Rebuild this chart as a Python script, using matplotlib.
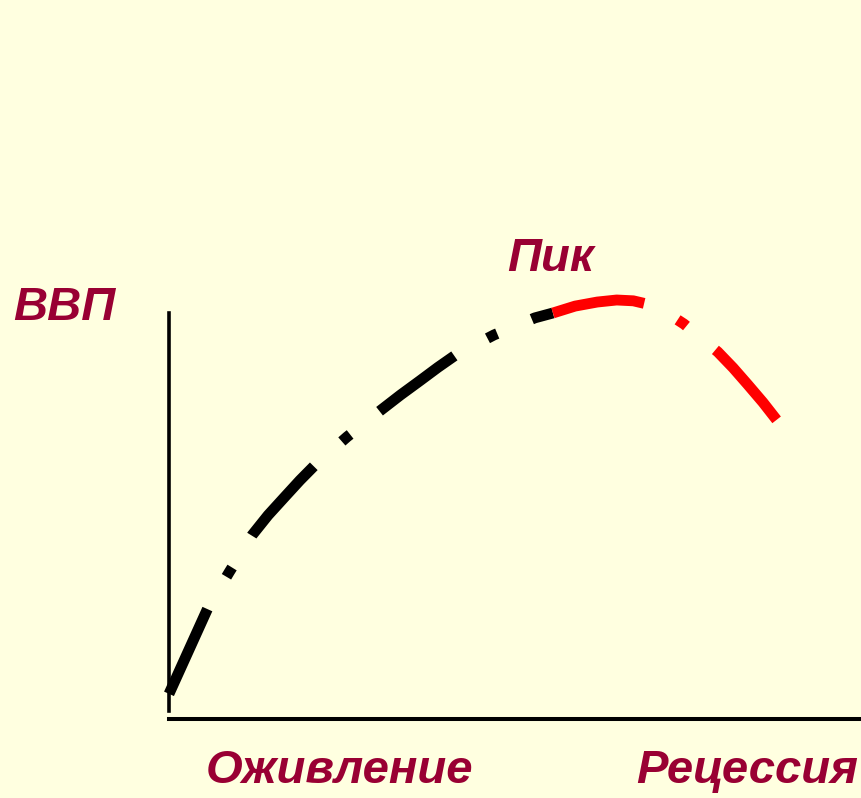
import matplotlib
matplotlib.use("Agg")
import matplotlib.pyplot as plt

# Curve (x: time, y: GDP, axis units 0..100)
rise_x = [0.0, 3.0, 5.6, 8.7, 12.0, 14.3, 16.7, 18.9, 21.1, 25.7, 30.6, 33.4, 36.2, 38.8, 41.4, 46.9, 52.8, 55.4]
rise_y = [6.2, 17.5, 27.3, 36.2, 45.3, 50.2, 54.7, 58.8, 62.6, 69.5, 76.1, 79.8, 83.3, 86.6, 89.7, 94.6, 98.8, 100.0]
fall_x = [55.4, 58.6, 61.8, 64.6, 67.0, 69.0, 71.7, 74.3, 76.6, 79.2, 81.4, 83.5, 85.7, 87.9]
fall_y = [100.0, 101.7, 102.7, 103.2, 103.0, 102.2, 100.2, 97.3, 94.1, 90.4, 86.5, 82.4, 78.0, 73.2]

label_y = "ВВП"
label_peak = "Пик"
label_recovery = "Оживление"
label_recession = "Рецессия"

BG = "#FFFFE0"
TXT = "#990033"
W, H = 862, 798

plt.rcParams["lines.scale_dashes"] = False
fig = plt.figure(figsize=(W / 100, H / 100), dpi=100, facecolor=BG)
ax = fig.add_axes([169 / W, (H - 719) / H, (W - 169) / W, (719 - 313) / H])
ax.set_facecolor(BG)
ax.patch.set_alpha(0)
ax.set_xlim(0, 100)
ax.set_ylim(0, 100)
ax.set_xticks([])
ax.set_yticks([])
for s in ("top", "right"):
    ax.spines[s].set_visible(False)
ax.spines["left"].set_linewidth(2.6)
ax.spines["bottom"].set_linewidth(2.9)
ax.spines["left"].set_bounds(2, 100)

pattern = (67, 27, 7.8, 27)
ax.plot(rise_x, rise_y, color="black", lw=7.8, dashes=pattern,
        solid_capstyle="butt", dash_capstyle="butt", solid_joinstyle="round",
        dash_joinstyle="round", clip_on=False)
ax.plot(fall_x, fall_y, color="#FF0000", lw=7.8, dashes=pattern,
        solid_capstyle="butt", dash_capstyle="butt", solid_joinstyle="round",
        dash_joinstyle="round", clip_on=False)

font = dict(family=["Liberation Sans", "DejaVu Sans"], weight="bold",
            style="italic", color=TXT, fontsize=34)
fig.text(13 / W, 1 - 320 / H, label_y, ha="left", va="baseline", **font)
fig.text(507 / W, 1 - 271 / H, label_peak, ha="left", va="baseline", **font)
fig.text(206 / W, 1 - 783 / H, label_recovery, ha="left", va="baseline", **font)
fig.text(636 / W, 1 - 783 / H, label_recession, ha="left", va="baseline", **font)

fig.savefig("out.png", dpi=100, facecolor=BG)
